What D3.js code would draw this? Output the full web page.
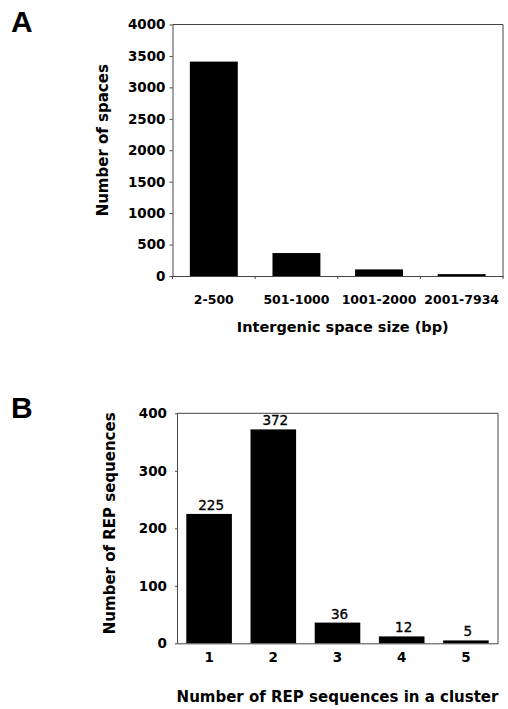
<!DOCTYPE html>
<html>
<head>
<meta charset="utf-8">
<script src="https://cdn.jsdelivr.net/npm/d3@7"></script>
<style>
  body { margin: 0; background: #fff; }
  svg text { font-family: "DejaVu Sans", Verdana, sans-serif; }
</style>
</head>
<body>
<div id="chart"></div>
<script>
// Panel A data
const spaceSizes = ["2-500", "501-1000", "1001-2000", "2001-7934"];
const spaceCounts = [3410, 365, 105, 30];
const spaceTicks = [0, 500, 1000, 1500, 2000, 2500, 3000, 3500, 4000];

// Panel B data
const clusterSizes = ["1", "2", "3", "4", "5"];
const repCounts = [225, 372, 36, 12, 5];
const repTicks = [0, 100, 200, 300, 400];

const svgWidth = 508;
const svgHeight = 709;

const svg = d3.select("#chart")
    .append("svg")
    .attr("width", svgWidth)
    .attr("height", svgHeight);

const axisColor = "#444";

// style axis text the same way everywhere
function styleAxis(g, size) {
    g.selectAll(".domain, line").attr("stroke", axisColor);
    g.selectAll("text")
        .attr("font-size", size)
        .attr("font-weight", "bold")
        .attr("fill", "#000")
        .style("font-family", "'DejaVu Sans', Verdana, sans-serif");
}

// ---------- Panel A ----------
const a = { left: 172.5, right: 503, top: 24.5, bottom: 276 };

const xA = d3.scaleBand()
    .domain(spaceSizes)
    .range([a.left, a.right])
    .paddingInner(0.42)
    .paddingOuter(0.21);

const yA = d3.scaleLinear()
    .domain([0, 4000])
    .range([a.bottom, a.top]);

// frame top and right
svg.append("path")
    .attr("d", `M${a.left},${a.top}H${a.right}V${a.bottom}`)
    .attr("fill", "none")
    .attr("stroke", axisColor);

svg.selectAll(".barA")
    .data(spaceCounts)
    .enter()
    .append("rect")
    .attr("class", "barA")
    .attr("x", (d, i) => xA(spaceSizes[i]))
    .attr("y", d => yA(d))
    .attr("width", xA.bandwidth())
    .attr("height", d => yA(0) - yA(d))
    .attr("fill", "#000");

const leftA = svg.append("g")
    .attr("transform", `translate(${a.left},0)`)
    .call(d3.axisLeft(yA).tickValues(spaceTicks).tickFormat(d3.format("d"))
        .tickSize(3).tickPadding(4).tickSizeOuter(0));
styleAxis(leftA, "13.5px");

const bottomA = svg.append("g")
    .attr("transform", `translate(0,${a.bottom})`)
    .call(d3.axisBottom(xA).tickSize(0).tickPadding(19).tickSizeOuter(0));
styleAxis(bottomA, "12.5px");

// tick marks between categories
const gap = (xA.step() - xA.bandwidth()) / 2;
const boundaries = spaceSizes.map(c => xA(c) - gap).concat([a.right]);
svg.selectAll(".boundA")
    .data(boundaries)
    .enter()
    .append("line")
    .attr("x1", d => d).attr("x2", d => d)
    .attr("y1", a.bottom).attr("y2", a.bottom + 3)
    .attr("stroke", axisColor);

svg.append("text")
    .attr("transform", `translate(108, ${(a.top + a.bottom) / 2 - 10}) rotate(-90)`)
    .attr("text-anchor", "middle")
    .attr("font-size", "15px")
    .attr("font-weight", "bold")
    .text("Number of spaces");

svg.append("text")
    .attr("x", (a.left + a.right) / 2 + 5)
    .attr("y", 332)
    .attr("text-anchor", "middle")
    .attr("font-size", "14.5px")
    .attr("font-weight", "bold")
    .text("Intergenic space size (bp)");

svg.append("text")
    .attr("x", 11)
    .attr("y", 32)
    .attr("font-size", "30px")
    .attr("font-weight", "bold")
    .style("font-family", "'Liberation Sans', Arial, sans-serif")
    .text("A");

// ---------- Panel B ----------
const b = { left: 177, right: 498, top: 413.3, bottom: 643.3 };

const xB = d3.scaleBand()
    .domain(clusterSizes)
    .range([b.left, b.right])
    .paddingInner(0.29)
    .paddingOuter(0.145);

const yB = d3.scaleLinear()
    .domain([0, 400])
    .range([b.bottom, b.top]);

svg.append("path")
    .attr("d", `M${b.left},${b.top}H${b.right}V${b.bottom}`)
    .attr("fill", "none")
    .attr("stroke", axisColor);

svg.selectAll(".barB")
    .data(repCounts)
    .enter()
    .append("rect")
    .attr("class", "barB")
    .attr("x", (d, i) => xB(clusterSizes[i]))
    .attr("y", d => yB(d))
    .attr("width", xB.bandwidth())
    .attr("height", d => yB(0) - yB(d))
    .attr("fill", "#000");

svg.selectAll(".valB")
    .data(repCounts)
    .enter()
    .append("text")
    .attr("class", "valB")
    .attr("x", (d, i) => xB(clusterSizes[i]) + xB.bandwidth() / 2 + 2)
    .attr("y", d => yB(d) - 4)
    .attr("text-anchor", "middle")
    .attr("font-size", "13.5px")
    .attr("stroke", "#000")
    .attr("stroke-width", 0.35)
    .text(d => d);

const leftB = svg.append("g")
    .attr("transform", `translate(${b.left},0)`)
    .call(d3.axisLeft(yB).tickValues(repTicks).tickFormat(d3.format("d"))
        .tickSize(2).tickPadding(8).tickSizeOuter(0));
styleAxis(leftB, "13.5px");

const bottomB = svg.append("g")
    .attr("transform", `translate(0,${b.bottom})`)
    .call(d3.axisBottom(xB).tickSize(0).tickPadding(9).tickSizeOuter(0));
styleAxis(bottomB, "13.5px");

svg.append("text")
    .attr("transform", `translate(115, ${(b.top + b.bottom) / 2 - 5}) rotate(-90)`)
    .attr("text-anchor", "middle")
    .attr("font-size", "15px")
    .attr("font-weight", "bold")
    .text("Number of REP sequences");

svg.append("text")
    .attr("x", (b.left + b.right) / 2)
    .attr("y", 702)
    .attr("text-anchor", "middle")
    .attr("font-size", "15px")
    .attr("font-weight", "bold")
    .text("Number of REP sequences in a cluster");

svg.append("text")
    .attr("x", 11)
    .attr("y", 418)
    .attr("font-size", "30px")
    .attr("font-weight", "bold")
    .style("font-family", "'Liberation Sans', Arial, sans-serif")
    .text("B");
</script>
</body>
</html>
